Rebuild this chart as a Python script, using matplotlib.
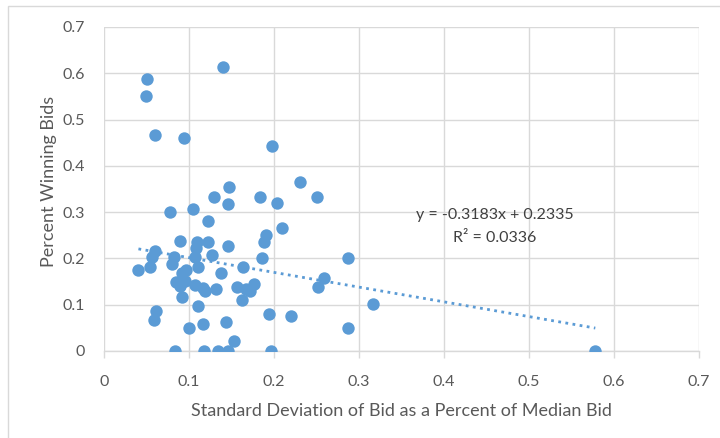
import matplotlib
matplotlib.use("Agg")
import matplotlib.pyplot as plt
from matplotlib.patches import Rectangle

# Data
std_dev_pct = [
    0.1397, 0.0508, 0.0496, 0.0598, 0.0944, 0.1976,
    0.1472, 0.1295, 0.184, 0.146, 0.204, 0.0771, 0.105, 0.1228,
    0.209, 0.231, 0.2507, 0.0897, 0.109, 0.1228, 0.146, 0.191,
    0.1877, 0.1086, 0.0598, 0.0563, 0.0818, 0.1267, 0.107, 0.186,
    0.0405, 0.0547, 0.0795, 0.111, 0.164, 0.0968, 0.138, 0.092,
    0.0842, 0.0889, 0.0956, 0.1066, 0.117, 0.119, 0.132, 0.1566,
    0.1676, 0.177, 0.1716, 0.287, 0.2586, 0.252, 0.092, 0.1625,
    0.111, 0.316, 0.0614, 0.0587, 0.1936, 0.2204, 0.100, 0.117,
    0.143, 0.2873, 0.1527, 0.084, 0.118, 0.134, 0.146, 0.197, 0.578,
]
pct_winning = [
    0.614, 0.587, 0.551, 0.466, 0.461, 0.443,
    0.3535, 0.333, 0.333, 0.3175, 0.319, 0.300, 0.306, 0.281,
    0.266, 0.365, 0.333, 0.2376, 0.236, 0.2354, 0.226, 0.250,
    0.2354, 0.2218, 0.216, 0.2023, 0.2023, 0.208, 0.2023, 0.200,
    0.176, 0.182, 0.187, 0.182, 0.181, 0.176, 0.169, 0.168,
    0.150, 0.140, 0.152, 0.1425, 0.137, 0.130, 0.134, 0.139,
    0.134, 0.145, 0.130, 0.2016, 0.1577, 0.138, 0.117, 0.110,
    0.098, 0.102, 0.0864, 0.068, 0.080, 0.075, 0.050, 0.058,
    0.062, 0.050, 0.022, 0.0, 0.0, 0.0, 0.0, 0.0, 0.0,
]
trend_slope = -0.3183
trend_intercept = 0.2335
r_squared = 0.0336
ticks = [0, 0.1, 0.2, 0.3, 0.4, 0.5, 0.6, 0.7]
tick_labels = ["0", "0.1", "0.2", "0.3", "0.4", "0.5", "0.6", "0.7"]

plt.rcParams['font.family'] = ['Lato', 'DejaVu Sans']
text_color = '#595959'
grid_color = '#d9d9d9'
point_color = '#5B9BD5'

fig = plt.figure(figsize=(7.2, 4.38), dpi=100)
fig.patches.append(Rectangle((8 / 720, -0.05), 1.1, 1 - 6 / 438 + 0.05,
                             transform=fig.transFigure, fill=False,
                             edgecolor=grid_color, linewidth=1.0))
ax = fig.add_axes([104 / 720, 1 - 351 / 438, (699 - 104) / 720, (351 - 27) / 438])

ax.scatter(std_dev_pct, pct_winning, s=80, color=point_color, zorder=3,
           linewidths=0)

x0 = min(std_dev_pct)
x1 = max(std_dev_pct)
ax.plot([x0, x1], [trend_intercept + trend_slope * x0, trend_intercept + trend_slope * x1],
        linestyle=(0, (1, 1.6)), color=point_color, linewidth=2.0, zorder=2)

ax.text(0.46, 0.293, f"y = {trend_slope:.4f}x + {trend_intercept:.4f}",
        fontsize=11.5, color='#404040', ha='center', va='center')
ax.text(0.46, 0.244, f"R² = {r_squared:.4f}",
        fontsize=11.5, color='#404040', ha='center', va='center')

ax.set_xlim(0, 0.7)
ax.set_ylim(0, 0.7)
ax.set_xticks(ticks)
ax.set_xticklabels(tick_labels)
ax.set_yticks(ticks)
ax.set_yticklabels(tick_labels)
ax.grid(True, color=grid_color, linewidth=1.0, zorder=0)
ax.set_axisbelow(True)
for side in ['top', 'right', 'left']:
    ax.spines[side].set_visible(False)
ax.spines['bottom'].set_color(grid_color)
ax.spines['bottom'].set_linewidth(1.0)
ax.tick_params(axis='x', colors=grid_color, labelcolor=text_color, length=5,
               width=1.0, labelsize=11.5, pad=12)
ax.tick_params(axis='y', length=0, labelcolor=text_color, labelsize=11.5, pad=14)

ax.set_xlabel("Standard Deviation of Bid as a Percent of Median Bid",
              fontsize=13, color=text_color, labelpad=10)
ax.set_ylabel("Percent Winning Bids", fontsize=13, color=text_color)
ax.yaxis.set_label_coords((57 - 104) / 595, (351 - 181) / 324)

fig.savefig("out.png", dpi=100, facecolor='white')
